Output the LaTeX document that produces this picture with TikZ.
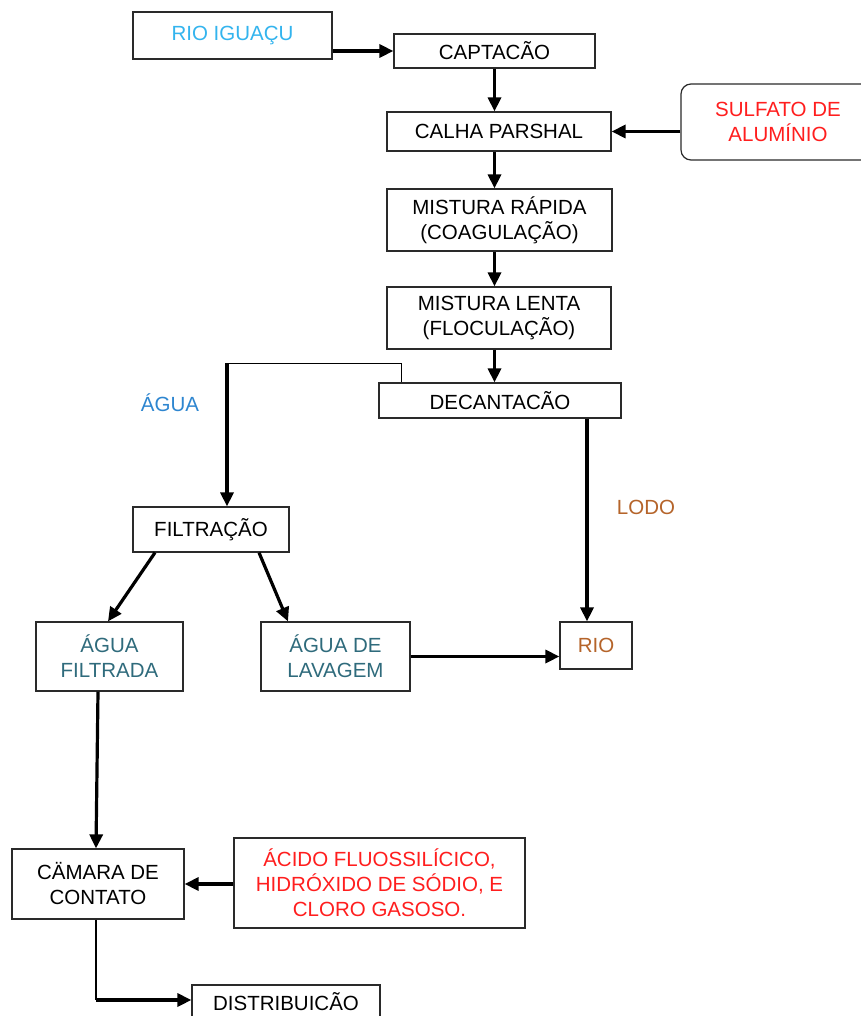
\documentclass[tikz,border=0pt]{standalone}
\usepackage{fontspec}
\setmainfont{Liberation Sans}
\usetikzlibrary{arrows.meta,calc}

\definecolor{boxline}{HTML}{2A2A2A}
\definecolor{rioblue}{HTML}{33B4EE}
\definecolor{aguablue}{HTML}{2E86D0}
\definecolor{tealtext}{HTML}{2F6B7C}
\definecolor{lodobrown}{HTML}{B5642A}
\definecolor{chemred}{HTML}{FF1E1E}

\begin{document}
\begin{tikzpicture}[x=1pt,y=-1pt,
  lbl/.style={font=\fontsize{20.5}{25}\selectfont,align=center,inner sep=0pt},
  box/.style={lbl,draw=boxline,line width=1.2pt},
  flow/.style={line width=3.2pt,draw=black,-{Triangle[length=14pt,width=13pt]}},
  pipe/.style={line width=1.3pt,draw=black}]
\useasboundingbox (0,0) rectangle (860,1016);
\fill[white] (0,0) rectangle (860,1016);

% treatment stages
\node[box,minimum width=199pt,minimum height=47pt,text=rioblue] (rioig) at (232.5,35.5) {RIO IGUAÇU};
\node[box,minimum width=201pt,minimum height=34pt] (capt) at (494.5,51) {CAPTACÃO};
\node[box,minimum width=224pt,minimum height=39pt] (calha) at (499,131.5) {CALHA PARSHAL};
\node[box,rounded corners=10pt,minimum width=194pt,minimum height=76pt,text=chemred] (sulf) at (778,122) {SULFATO DE\\ALUMÍNIO};
\node[box,minimum width=225pt,minimum height=62pt] (mrap) at (499.5,220) {MISTURA RÁPIDA\\(COAGULAÇÃO)};
\node[box,minimum width=224pt,minimum height=62pt] (mlen) at (499,318) {MISTURA LENTA\\(FLOCULAÇÃO)};
\node[box,minimum width=242pt,minimum height=35pt] (dec) at (500,400.5) {DECANTACÃO};
\node[box,minimum width=156pt,minimum height=45pt] (filt) at (211,529.5) {FILTRAÇÃO};
\node[box,minimum width=147pt,minimum height=69pt,text=tealtext] (afil) at (109.5,656.5) {ÁGUA\\FILTRADA};
\node[box,minimum width=149pt,minimum height=69pt,text=tealtext] (alav) at (335.5,656.5) {ÁGUA DE\\LAVAGEM};
\node[box,minimum width=72pt,minimum height=47pt,text=lodobrown] (rio) at (596,645.5) {RIO};
\node[box,minimum width=172pt,minimum height=70pt] (cam) at (98,884) {CÄMARA DE\\CONTATO};
\node[box,minimum width=291pt,minimum height=90pt,text=chemred] (acido) at (379.5,883) {ÁCIDO FLUOSSILÍCICO,\\HIDRÓXIDO DE SÓDIO, E\\CLORO GASOSO.};
\node[box,minimum width=188pt,minimum height=34pt] (dist) at (286,1002) {DISTRIBUICÃO};

% stream labels
\node[lbl,text=aguablue] (agua) at (170,403) {ÁGUA};
\node[lbl,text=lodobrown] (lodo) at (646,507) {LODO};

% route of the clarified water leaving the decanter
\coordinate (wup) at ($(dec.north west)+(23,-19)$);
\coordinate (wcorner) at ($(filt.north)+(16,-143)$);

% main line
\draw[flow] (rioig.east |- capt.west) -- (capt.west);
\draw[flow] (capt.south) -- (capt.south |- calha.north);
\draw[flow] (sulf.west |- calha.east) -- (calha.east);
\draw[flow] (calha.south -| capt.south) -- (capt.south |- mrap.north);
\draw[flow] (mrap.south -| capt.south) -- (capt.south |- mlen.north);
\draw[flow] (mlen.south -| capt.south) -- (capt.south |- dec.north);

% decanter outputs
\draw[pipe] (wup |- dec.north) -- (wup) -- (wcorner);
\draw[flow] (wcorner) -- (wcorner |- filt.north);
\draw[flow] ($(dec.south)+(87,0)$) -- ($(rio.north)+(-9,0)$);

% filtration outputs
\draw[flow] ($(filt.south)+(-56,0)$) -- ($(afil.north)+(-1.5,0)$);
\draw[flow] ($(filt.south)+(48,0)$) -- ($(alav.north)+(-47.5,0)$);
\draw[flow] (alav.east) -- (alav.east -| rio.west);

% disinfection and distribution
\draw[flow] ($(afil.south)+(-11.5,0)$) -- ($(cam.north)+(-2,0)$);
\draw[flow] (acido.west |- cam.east) -- (cam.east);
\coordinate (distin) at ($(dist.west)+(0,-2)$);
\draw[pipe,line width=1.6pt] ($(cam.south)+(-2,0)$) -- ($(cam.south |- distin)+(-2,0)$);
\draw[flow] ($(cam.south |- distin)+(-2,0)$) -- (distin);
\end{tikzpicture}
\end{document}
